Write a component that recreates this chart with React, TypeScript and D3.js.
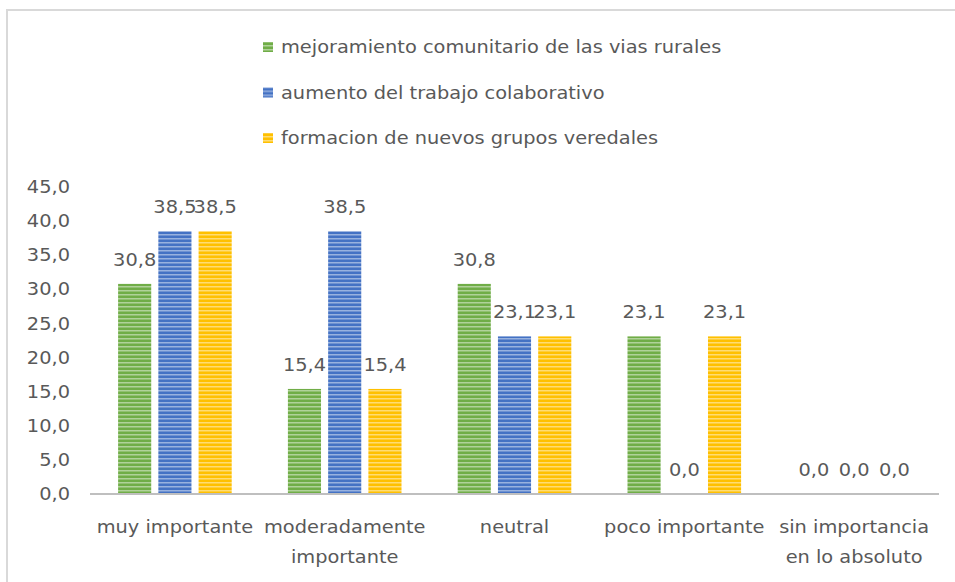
import { useEffect, useRef } from 'react';
import * as d3 from 'd3';

const categories = [
  ['muy importante'],
  ['moderadamente', 'importante'],
  ['neutral'],
  ['poco importante'],
  ['sin importancia', 'en lo absoluto'],
];
const seriesNames = [
  'mejoramiento comunitario de las vias rurales',
  'aumento del trabajo colaborativo',
  'formacion de nuevos grupos veredales',
];
const mejoramiento = [30.8, 15.4, 30.8, 23.1, 0.0];
const aumento = [38.5, 38.5, 23.1, 0.0, 0.0];
const formacion = [38.5, 15.4, 23.1, 23.1, 0.0];
const seriesColors = ['#70AD47', '#4472C4', '#FFC000'];
const yTicks = [0, 5, 10, 15, 20, 25, 30, 35, 40, 45];

const W = 955;
const H = 582;
const FONT = 'DejaVu Sans, sans-serif';
const TEXT = '#595959';
const SX = 1.14; // the source text is a bit wider than DejaVu

const fmt = (v: number) => v.toFixed(1).replace('.', ',');

export default function App() {
  const ref = useRef<SVGSVGElement>(null);

  useEffect(() => {
    const el = ref.current;
    if (!el) return;
    const svg = d3.select(el);
    svg.selectAll('*').remove();

    const series = [mejoramiento, aumento, formacion];
    const defs = svg.append('defs');
    seriesColors.forEach((c, i) => {
      const p = defs
        .append('pattern')
        .attr('id', `stripe${i}`)
        .attr('patternUnits', 'userSpaceOnUse')
        .attr('width', 8)
        .attr('height', 4);
      p.append('rect').attr('width', 8).attr('height', 4).attr('fill', c);
      p.append('rect')
        .attr('y', 2)
        .attr('width', 8)
        .attr('height', 1.5)
        .attr('fill', '#ffffff')
        .attr('opacity', 0.45);
    });

    svg
      .append('rect')
      .attr('x', 7)
      .attr('y', 10)
      .attr('width', W + 10)
      .attr('height', H + 10)
      .attr('fill', 'white')
      .attr('stroke', '#d9d9d9')
      .attr('stroke-width', 2);

    const x = d3
      .scaleBand<number>()
      .domain(d3.range(categories.length))
      .range([90, 939]);
    const y = d3.scaleLinear().domain([0, 45]).range([494, 187]);

    const bw = x.bandwidth();
    const barW = bw * 0.195;
    const gap = bw * 0.042;
    const groupW = barW * 3 + gap * 2;
    const inner = d3
      .scaleOrdinal<number, number>()
      .domain([0, 1, 2])
      .range([0, 1, 2].map((k) => (bw - groupW) / 2 + k * (barW + gap)));

    const place = (px: number, py: number) => `translate(${px},${py}) scale(${SX},1)`;

    // y tick labels
    svg
      .append('g')
      .selectAll('text')
      .data(yTicks)
      .join('text')
      .attr('transform', (d) => place(70, y(d)))
      .attr('dy', '0.36em')
      .attr('text-anchor', 'end')
      .attr('font-family', FONT)
      .attr('font-size', 17)
      .attr('fill', TEXT)
      .text((d) => fmt(d));

    // bars
    series.forEach((vals, si) => {
      const g = svg.append('g');
      g.selectAll('rect')
        .data(vals)
        .join('rect')
        .attr('x', (_d, i) => (x(i) ?? 0) + inner(si))
        .attr('y', (d) => y(d))
        .attr('width', barW)
        .attr('height', (d) => y(0) - y(d))
        .attr('fill', `url(#stripe${si})`);
      g.selectAll('text')
        .data(vals)
        .join('text')
        .attr('transform', (d, i) => place((x(i) ?? 0) + inner(si) + barW / 2, y(d) - 18))
        .attr('text-anchor', 'middle')
        .attr('font-family', FONT)
        .attr('font-size', 17)
        .attr('fill', TEXT)
        .text((d) => fmt(d));
    });

    // axis line
    svg
      .append('line')
      .attr('x1', x.range()[0])
      .attr('x2', x.range()[1])
      .attr('y1', y(0))
      .attr('y2', y(0))
      .attr('stroke', '#bfbfbf')
      .attr('stroke-width', 2);

    // category labels
    const cat = svg
      .append('g')
      .selectAll('text')
      .data(categories)
      .join('text')
      .attr('transform', (_d, i) => place((x(i) ?? 0) + bw / 2, 533))
      .attr('text-anchor', 'middle')
      .attr('font-family', FONT)
      .attr('font-size', 17)
      .attr('fill', TEXT);
    cat
      .selectAll('tspan')
      .data((d) => d)
      .join('tspan')
      .attr('x', 0)
      .attr('dy', (_d, j) => (j === 0 ? 0 : 30))
      .text((d) => d);

    // legend
    const leg = svg
      .append('g')
      .selectAll('g')
      .data(seriesNames)
      .join('g')
      .attr('transform', (_d, i) => `translate(263,${47 + i * 45.5})`);
    leg
      .append('rect')
      .attr('x', 0)
      .attr('y', -5)
      .attr('width', 10)
      .attr('height', 10)
      .attr('fill', (_d, i) => `url(#stripe${i})`);
    leg
      .append('text')
      .attr('transform', place(18, 0))
      .attr('dy', '0.36em')
      .attr('font-family', FONT)
      .attr('font-size', 17)
      .attr('fill', TEXT)
      .text((d) => d);
  }, []);

  return (
    <svg
      ref={ref}
      width={W}
      height={H}
      style={{ position: 'absolute', left: 0, top: 0, display: 'block' }}
    />
  );
}
